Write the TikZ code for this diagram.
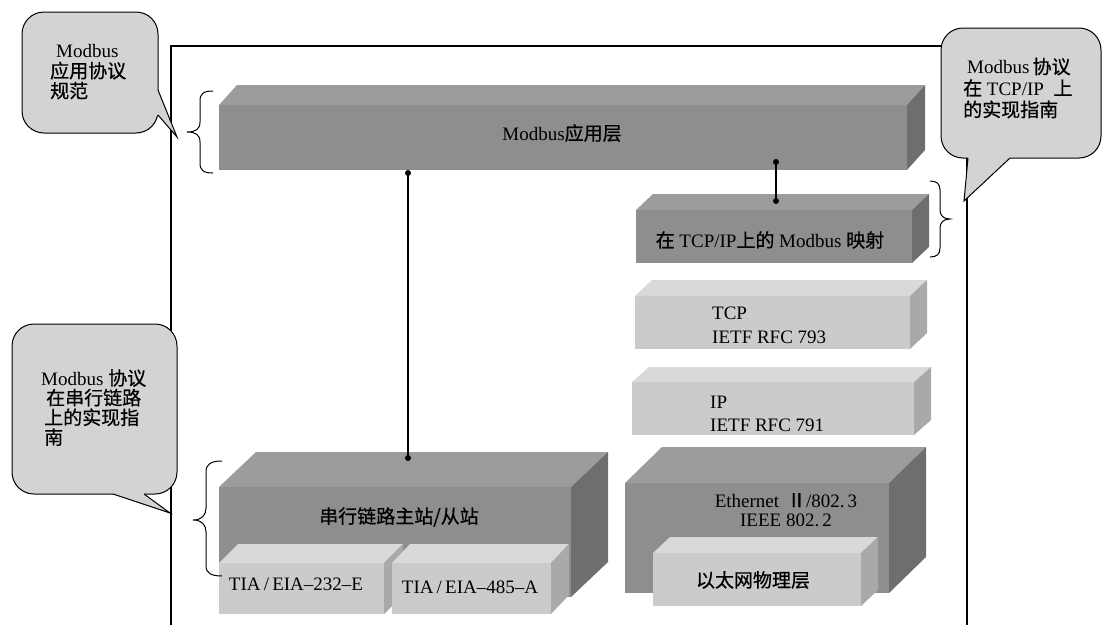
\documentclass[tikz,border=0pt]{standalone}
\usepackage{fontspec}
\setmainfont{Liberation Serif}
\newfontfamily\cjk[FakeBold=0.6]{Noto Sans CJK SC}
\definecolor{dkF}{HTML}{8E8E8E}
\definecolor{dktop}{HTML}{9C9C9C}
\definecolor{dkside}{HTML}{6E6E6E}
\definecolor{ltF}{HTML}{CBCBCB}
\definecolor{lttop}{HTML}{D9D9D9}
\definecolor{ltside}{HTML}{A9A9A9}
\definecolor{callF}{HTML}{D3D3D3}
\newcommand\mkprism[4]{%
  \fill[#4top] (#1.north west) -- ++(#2,-#3) -- ([shift={(#2,-#3)}]#1.north east) -- (#1.north east) -- cycle;
  \fill[#4side] (#1.north east) -- ++(#2,-#3) -- ([shift={(#2,-#3)}]#1.south east) -- (#1.south east) -- cycle;
}
\begin{document}
\begin{tikzpicture}[x=1pt,y=-1pt,
  txt/.style={font=\fontsize{19}{21}\selectfont, inner sep=0pt},
  face/.style={inner sep=0pt, outer sep=0pt, anchor=north west},
  dkfront/.style={face, fill=dkF},
  ltfront/.style={face, fill=ltF},
  callout/.style={draw=black, fill=callF, line width=1pt, rounded corners=22pt},
  ptr/.style={draw=black, line width=1pt, line join=miter},
  conn/.style={line width=1.3pt},
  dotc/.style={circle, fill=black, inner sep=0pt, minimum size=6pt},
  bracestyle/.style={line width=1pt},
  framestyle/.style={line width=1.3pt}]
\useasboundingbox (0,0) rectangle (1103,624);
\fill[white] (0,0) rectangle (1103,624);

% frame
\draw[framestyle] (171,630) -- (171,46) -- (967,46) -- (967,630);

% application layer
\node[dkfront, minimum width=688pt, minimum height=65pt] (app) at (219,105) {};
\mkprism{app}{18}{20}{dk}
\node[txt] (tapp) at (562,133) {Modbus{\cjk 应用层}};

% mapping
\node[dkfront, minimum width=276pt, minimum height=53pt] (map) at (636,210) {};
\mkprism{map}{17}{16}{dk}
\node[txt] (tmap) at (770,240) {{\cjk 在} TCP/IP{\cjk 上的} Modbus {\cjk 映射}};

% TCP
\node[ltfront, minimum width=275pt, minimum height=53pt] (tcp) at (635,296) {};
\mkprism{tcp}{17}{16}{lt}
\node[txt, align=left, anchor=west, font=\fontsize{19}{24}\selectfont] (ttcp) at (712,325) {TCP\\IETF RFC 793};

% IP
\node[ltfront, minimum width=282pt, minimum height=53pt] (ipb) at (632,382) {};
\mkprism{ipb}{17}{15}{lt}
\node[txt, align=left, anchor=west, font=\fontsize{19}{23}\selectfont] (tipb) at (710,413.5) {IP\\IETF RFC 791};

% Ethernet
\node[dkfront, minimum width=264pt, minimum height=110pt] (eth) at (625,483) {};
\mkprism{eth}{37}{36}{dk}
\node[txt, align=center, font=\fontsize{19}{19.5}\selectfont] (teth) at (786,510) {Ethernet\ \,{\cjk Ⅱ}/802.\,3\\IEEE 802.\,2};
\node[ltfront, minimum width=208pt, minimum height=53pt] (phy) at (653,553) {};
\mkprism{phy}{17}{16}{lt}
\node[txt] (tphy) at (753,580) {{\cjk 以太网物理层}};

% serial
\node[dkfront, minimum width=352pt, minimum height=110pt] (ser) at (219,487) {};
\mkprism{ser}{37}{35}{dk}
\node[txt] (tser) at (399,517) {{\cjk 串行链路主站/从站}};
\node[ltfront, minimum width=165pt, minimum height=51pt] (b232) at (219,563) {};
\mkprism{b232}{19}{19}{lt}
\node[ltfront, minimum width=159pt, minimum height=51pt] (b485) at (392,563) {};
\mkprism{b485}{18}{19}{lt}
\node[txt] (t232) at (296,584) {TIA\,/\,EIA–232–E};
\node[txt] (t485) at (470,587) {TIA\,/\,EIA–485–A};

% connectors
\node[dotc] (d1) at (408,173) {};
\node[dotc] (d2) at (408,458) {};
\node[dotc] (d3) at (776,162) {};
\node[dotc] (d4) at (776,201) {};
\draw[conn] (d1.center) -- (d2.center);
\draw[conn] (d3.center) -- (d4.center);

% braces
\draw[bracestyle] (213,91) .. controls (203,91) and (200,94) .. (200,101) -- (200,122) .. controls (200,129) and (196,132) .. (187,132) .. controls (196,132) and (200,135) .. (200,142) -- (200,163) .. controls (200,170) and (203,173) .. (213,173);
\draw[bracestyle] (222,461) .. controls (211,461) and (206,464) .. (206,472) -- (206,508) .. controls (206,515) and (202,520) .. (193,520) .. controls (202,520) and (206,525) .. (206,532) -- (206,566) .. controls (206,573) and (211,576) .. (222,576);
\draw[bracestyle] (930,181) .. controls (937,181) and (940,184) .. (940,190) -- (940,210) .. controls (940,215) and (943,219) .. (950,219) .. controls (943,219) and (940,223) .. (940,228) -- (940,248) .. controls (940,254) and (937,257) .. (930,257);

% callout top-left
\draw[callout] (22,12) rectangle (158,133);
\fill[callF] (154,90) -- (158,90) -- (177,137) -- (158,115) -- (154,115) -- cycle;
\draw[ptr] (158,90) -- (177,137) -- (158,115);
\node[txt, align=left, anchor=west, font=\fontsize{19}{20}\selectfont] (ctl) at (50,72) {\hspace*{6pt}Modbus\\{\cjk 应用协议}\\{\cjk 规范}};

% callout top-right
\draw[callout] (941,28) rectangle (1101,158);
\fill[callF] (968,154) -- (968,158) -- (964,201) -- (1010,158) -- (1010,154) -- cycle;
\draw[ptr] (968,158) -- (964,201) -- (1010,158);
\node[txt, align=left, anchor=west, font=\fontsize{19}{21.5}\selectfont] (ctr) at (963,88) {\hspace*{4pt}Modbus\,{\cjk 协议}\\{\cjk 在} TCP/IP\ \ {\cjk 上}\\{\cjk 的实现指南}};

% callout left-middle
\draw[callout] (12,324) rectangle (177,494);
\fill[callF] (113,490) -- (113,494) -- (170,513) -- (144,494) -- (144,490) -- cycle;
\draw[ptr] (113,494) -- (170,513) -- (144,494);
\node[txt, align=left, anchor=west, font=\fontsize{19}{19.7}\selectfont] (clm) at (41,407.5) {Modbus {\cjk 协议}\\\hspace*{5pt}{\cjk 在串行链路}\\\hspace*{3pt}{\cjk 上的实现指}\\\hspace*{3pt}{\cjk 南}};
\end{tikzpicture}
\end{document}
